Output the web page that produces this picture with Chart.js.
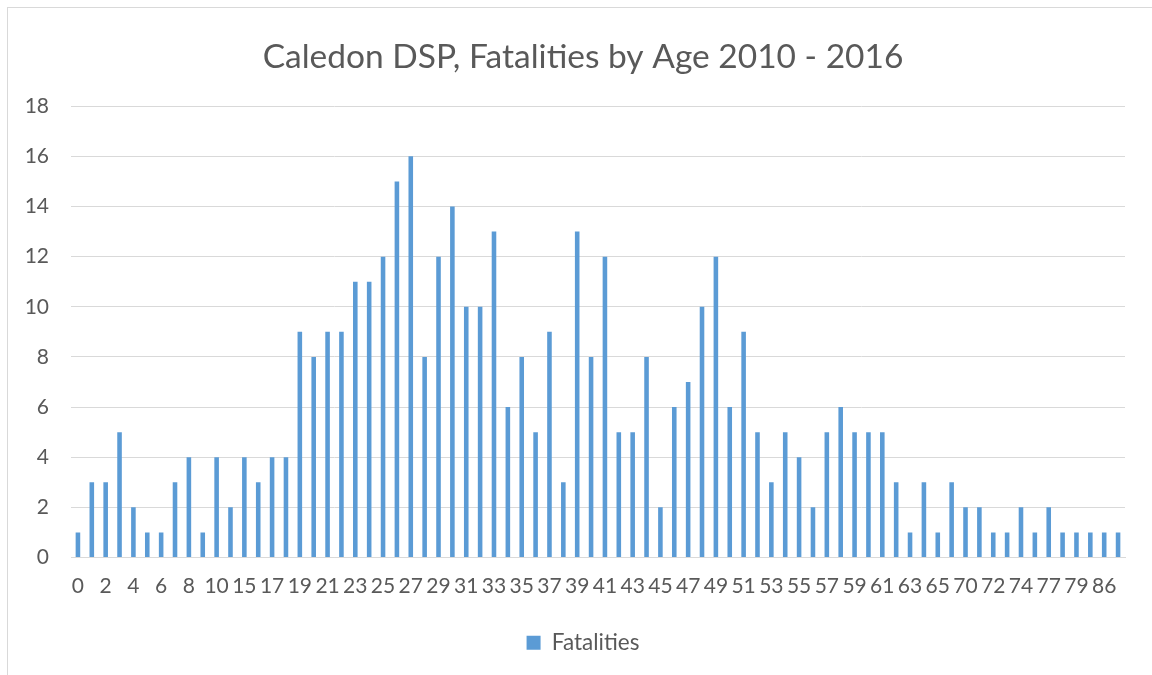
<!DOCTYPE html>
<html>
<head>
<meta charset="utf-8">
<script src="https://cdn.jsdelivr.net/npm/chart.js"></script>
<style>
  html, body { margin: 0; padding: 0; background: #fff; overflow: hidden; }
  #frame { position: absolute; left: 7px; top: 7px; width: 1200px; height: 700px; border: 1px solid #d9d9d9; }
  #wrap { position: absolute; left: 0; top: 0; width: 1152px; height: 675px; }
</style>
</head>
<body>
<div id="frame"></div>
<div id="wrap"><canvas id="chart"></canvas></div>
<script>
// ages (odd-position labels are hidden in the original, so those are guesses)
const ages = ["0","1","2","3","4","5","6","7","8","9","10","11","15","16","17","18",
  "19","20","21","22","23","24","25","26","27","28","29","30","31","32","33","34","35","36","37","38","39","40",
  "41","42","43","44","45","46","47","48","49","50","51","52","53","54","55","56","57","58","59","60","61","62",
  "63","64","65","67","70","71","72","73","74","76","77","78","79","81","86","88"];
const fatalities = [1,3,3,5,2,1,1,3,4,1,4,2,4,3,4,4,
  9,8,9,9,11,11,12,15,16,8,12,14,10,10,13,6,8,5,9,3,13,8,
  12,5,5,8,2,6,7,10,12,6,9,5,3,5,4,2,5,6,5,5,5,3,
  1,3,1,3,2,2,1,1,2,1,2,1,1,1,1,1];
const yTicks = [0,2,4,6,8,10,12,14,16,18];

const txt = '#595959';
const font = 'Lato, "Open Sans", sans-serif';

new Chart(document.getElementById('chart'), {
  type: 'bar',
  data: {
    labels: ages,
    datasets: [{ label: 'Fatalities', data: fatalities, backgroundColor: '#5b9bd5', barPercentage: 0.33, categoryPercentage: 1 }]
  },
  options: {
    responsive: true,
    maintainAspectRatio: false,
    animation: false,
    layout: { padding: { left: 14, right: 0, top: 0, bottom: 11 } },
    plugins: {
      title: { display: true, text: 'Caledon DSP, Fatalities by Age 2010 - 2016', color: txt,
        font: { family: font, size: 33.5, weight: 'normal' }, padding: { top: 37, bottom: 29 } },
      legend: { position: 'bottom', labels: { color: txt, boxWidth: 14, boxHeight: 14, padding: 10,
        font: { family: font, size: 22.5 } } },
      tooltip: { enabled: false }
    },
    scales: {
      x: {
        grid: { display: false },
        border: { color: '#d9d9d9' },
        ticks: { color: txt, autoSkip: false, maxRotation: 0, padding: 8,
          font: { family: font, size: 21 },
          callback: function (v, i) { return i % 2 === 0 ? ages[i] : ''; } },
        afterFit: function (s) { s.height = 64; }
      },
      y: {
        min: 0, max: 18,
        afterBuildTicks: function (s) { s.ticks = yTicks.map(v => ({ value: v })); },
        grid: { color: '#d9d9d9', drawTicks: false },
        border: { display: false },
        ticks: { color: txt, padding: 22, font: { family: font, size: 21 } },
        afterFit: function (s) { s.width = 57; }
      },
      // empty right-hand axis, only keeps the plot clear of the right edge
      yRight: {
        position: 'right', min: 0, max: 18,
        grid: { display: false }, border: { display: false }, ticks: { display: false },
        afterFit: function (s) { s.width = 27; }
      }
    }
  }
});
</script>
</body>
</html>
